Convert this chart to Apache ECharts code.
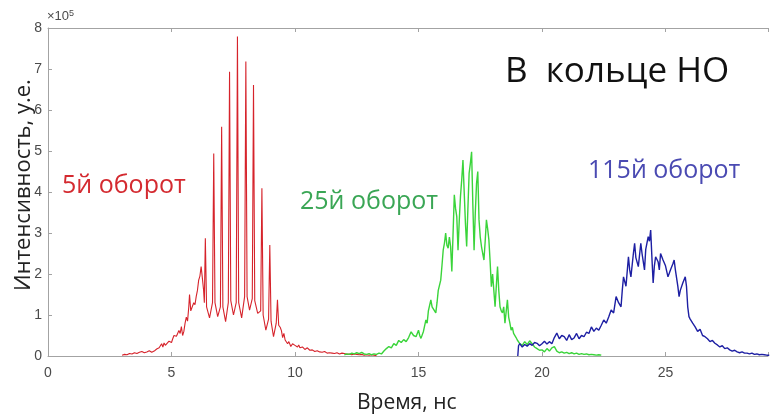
<!DOCTYPE html>
<html>
<head>
<meta charset="utf-8">
<script src="https://cdn.jsdelivr.net/npm/echarts@6/dist/echarts.min.js"></script>
<style>
  html, body { margin: 0; padding: 0; background: #fff; }
  #chart { width: 771px; height: 420px; }
</style>
</head>
<body>
<div id="chart"></div>
<script>
// Intensity (units of 1e5) versus time, ns — pulses after 5, 25 and 115 turns
const red = [
  [3.0,0.02],[3.1,0.04],[3.2,0.03],[3.3,0.06],[3.4,0.05],[3.5,0.08],[3.6,0.06],[3.7,0.09],
  [3.8,0.11],[3.9,0.08],[4.0,0.10],[4.1,0.13],[4.2,0.09],[4.3,0.12],[4.4,0.17],[4.5,0.20],
  [4.6,0.30],[4.65,0.22],[4.7,0.32],[4.75,0.26],[4.8,0.24],[4.9,0.36],[5.0,0.33],[5.05,0.42],
  [5.1,0.50],[5.2,0.48],[5.3,0.62],[5.35,0.55],[5.4,0.72],[5.45,0.50],[5.5,0.60],[5.55,0.80],
  [5.6,0.95],[5.65,0.85],[5.7,1.20],[5.73,1.50],[5.78,1.10],[5.85,1.12],[5.9,1.30],[5.95,1.25],
  [6.0,1.45],[6.05,1.60],[6.1,1.85],[6.15,1.95],[6.2,2.18],[6.25,1.90],[6.3,1.60],
  [6.33,1.3],[6.37,2.87],[6.42,1.2],[6.54,0.93],
  [6.66,1.3],[6.71,4.94],[6.76,1.3],[6.87,0.96],
  [6.98,1.2],[7.03,5.59],[7.08,1.2],[7.19,0.84],
  [7.30,1.3],[7.35,6.93],[7.40,1.35],[7.51,1.00],
  [7.62,1.3],[7.67,7.79],[7.72,1.3],[7.84,0.93],
  [7.96,1.45],[8.01,7.18],[8.06,1.45],[8.16,1.12],
  [8.27,1.4],[8.32,6.61],[8.37,1.35],[8.49,1.04],
  [8.61,1.1],[8.66,4.09],[8.71,1.0],[8.82,0.63],
  [8.93,0.9],[8.98,2.71],[9.03,0.85],[9.13,0.47],
  [9.24,0.8],[9.29,1.37],[9.34,0.75],
  [9.4,0.70],[9.45,0.62],[9.5,0.45],[9.55,0.55],[9.6,0.39],[9.65,0.42],[9.7,0.30],[9.75,0.35],
  [9.83,0.23],[9.9,0.30],[10.0,0.26],[10.1,0.22],[10.15,0.27],[10.2,0.20],[10.3,0.22],[10.4,0.16],
  [10.5,0.20],[10.55,0.19],[10.6,0.14],[10.7,0.15],[10.8,0.11],[10.9,0.13],[11.0,0.10],[11.1,0.09],
  [11.2,0.11],[11.3,0.07],[11.4,0.08],[11.5,0.07],[11.6,0.06],[11.7,0.08],[11.8,0.05],[11.9,0.07],
  [12.0,0.06],[12.1,0.04],[12.2,0.05],[12.3,0.03],[12.4,0.05],[12.5,0.04],[12.6,0.03],[12.7,0.04],
  [12.8,0.02],[12.9,0.03],[13.0,0.02],[13.1,0.03],[13.2,0.02],[13.3,0.01]
];

const green = [
  [12.0,0.03],[12.1,0.05],[12.2,0.04],[12.3,0.07],[12.4,0.05],[12.5,0.08],[12.6,0.06],[12.7,0.09],
  [12.8,0.05],[12.9,0.04],[13.0,0.06],[13.1,0.03],[13.2,0.05],[13.3,0.04],[13.4,0.07],[13.5,0.05],
  [13.6,0.12],[13.7,0.18],[13.8,0.23],[13.9,0.20],[14.0,0.30],[14.1,0.26],[14.2,0.38],[14.3,0.33],
  [14.4,0.40],[14.5,0.35],[14.6,0.45],[14.7,0.59],[14.8,0.50],[14.9,0.47],[15.0,0.63],[15.05,0.50],
  [15.1,0.43],[15.2,0.60],[15.3,0.88],[15.35,0.80],[15.4,1.10],[15.5,1.37],[15.55,1.20],[15.6,1.15],
  [15.7,1.05],[15.75,1.30],[15.8,1.60],[15.9,1.85],[15.95,2.20],[16.0,2.58],[16.05,2.75],[16.1,3.00],
  [16.15,2.70],[16.2,2.63],[16.25,2.90],[16.3,2.67],[16.35,2.06],[16.45,3.93],[16.5,3.60],[16.55,3.40],
  [16.6,2.58],[16.65,3.30],[16.7,3.90],[16.75,4.30],[16.8,4.78],[16.85,4.00],[16.9,3.24],[16.95,2.67],
  [17.0,3.60],[17.05,4.46],[17.1,4.70],[17.15,4.98],[17.2,3.70],[17.25,2.58],[17.3,3.50],[17.35,4.21],
  [17.4,4.50],[17.45,3.32],[17.5,2.90],[17.55,2.67],[17.6,2.50],[17.65,2.34],[17.7,2.80],[17.75,3.32],
  [17.8,3.10],[17.85,2.83],[17.9,2.30],[17.95,1.69],[18.0,2.00],[18.05,1.60],[18.1,1.20],[18.15,1.70],
  [18.2,2.18],[18.25,1.60],[18.3,1.20],[18.35,1.10],[18.4,1.05],[18.45,1.20],[18.5,0.80],[18.6,1.37],
  [18.65,0.95],[18.7,0.80],[18.75,0.63],[18.8,0.70],[18.85,0.55],[18.9,0.59],[18.95,0.45],[19.0,0.39],
  [19.05,0.42],[19.1,0.30],[19.2,0.26],[19.3,0.35],[19.4,0.28],[19.5,0.37],[19.6,0.30],[19.7,0.22],
  [19.8,0.18],[19.9,0.14],[20.0,0.15],[20.1,0.10],[20.2,0.18],[20.3,0.12],[20.4,0.20],[20.5,0.23],
  [20.6,0.12],[20.7,0.08],[20.8,0.10],[20.9,0.07],[21.0,0.09],[21.1,0.06],[21.2,0.08],[21.3,0.05],
  [21.4,0.07],[21.5,0.04],[21.6,0.06],[21.7,0.04],[21.8,0.05],[21.9,0.03],[22.0,0.04],[22.1,0.03],
  [22.2,0.02],[22.3,0.03],[22.4,0.02]
];

const blue = [
  [19.02,0.0],[19.05,0.25],[19.1,0.30],[19.2,0.22],[19.3,0.28],[19.4,0.24],[19.5,0.30],[19.6,0.26],
  [19.7,0.33],[19.8,0.31],[19.9,0.25],[20.0,0.30],[20.1,0.36],[20.2,0.29],[20.3,0.35],[20.4,0.30],
  [20.5,0.45],[20.6,0.56],[20.7,0.42],[20.8,0.50],[20.9,0.47],[21.0,0.38],[21.1,0.52],[21.2,0.40],
  [21.3,0.44],[21.4,0.55],[21.5,0.42],[21.6,0.50],[21.7,0.47],[21.8,0.58],[21.9,0.55],[22.0,0.71],
  [22.1,0.60],[22.2,0.68],[22.3,0.63],[22.4,0.75],[22.5,0.88],[22.6,0.80],[22.7,0.95],[22.8,1.12],
  [22.9,1.05],[23.0,1.45],[23.1,1.30],[23.2,1.20],[23.25,1.60],[23.3,1.93],[23.4,1.70],[23.5,2.42],
  [23.55,2.10],[23.6,1.93],[23.7,2.50],[23.75,2.75],[23.8,2.40],[23.9,2.18],[24.0,2.75],[24.05,2.50],
  [24.1,2.30],[24.15,2.10],[24.2,2.60],[24.3,2.91],[24.35,2.80],[24.4,3.07],[24.45,2.40],[24.5,1.78],
  [24.55,2.20],[24.6,2.42],[24.7,2.30],[24.75,2.10],[24.8,2.50],[24.9,2.34],[25.0,2.20],[25.1,1.93],
  [25.2,2.10],[25.3,2.25],[25.35,2.34],[25.4,2.10],[25.5,1.70],[25.55,1.45],[25.6,1.60],[25.7,1.78],
  [25.8,1.93],[25.85,1.70],[25.9,1.20],[25.95,0.96],[26.0,0.90],[26.1,0.80],[26.2,0.71],[26.3,0.60],
  [26.4,0.65],[26.5,0.50],[26.6,0.47],[26.7,0.42],[26.8,0.35],[26.9,0.38],[27.0,0.31],[27.1,0.27],
  [27.2,0.22],[27.3,0.25],[27.4,0.18],[27.5,0.20],[27.6,0.15],[27.7,0.12],[27.8,0.14],[27.9,0.10],
  [28.0,0.08],[28.1,0.10],[28.2,0.07],[28.3,0.07],[28.4,0.05],[28.5,0.07],[28.6,0.04],[28.7,0.05],
  [28.8,0.03],[28.9,0.04],[29.0,0.03],[29.1,0.02],[29.2,0.02]
];

const xTicks = [0, 5, 10, 15, 20, 25];
const yTicks = [0, 1, 2, 3, 4, 5, 6, 7, 8];

const axisGray = '#a3a3a3';
const labelGray = '#4a4a4a';

const chart = echarts.init(document.getElementById('chart'), null, { renderer: 'canvas' });

function line(name, data, color, width) {
  return {
    name: name,
    type: 'line',
    data: data,
    showSymbol: false,
    silent: true,
    lineStyle: { color: color, width: width },
    emphasis: { disabled: true }
  };
}

chart.setOption({
  animation: false,
  backgroundColor: '#ffffff',
  grid: { left: 48, right: 0, top: 28, bottom: 64, containLabel: false },
  xAxis: [
    {
      type: 'value', min: 0, max: 29.15, interval: 5, position: 'bottom',
      axisLine: { show: true, lineStyle: { color: axisGray, width: 1 } },
      axisTick: { show: true, inside: true, length: 4, lineStyle: { color: axisGray } },
      axisLabel: {
        color: labelGray, fontSize: 14, fontFamily: 'Liberation Sans, Arial', margin: 10,
        formatter: v => (xTicks.indexOf(v) >= 0 ? String(v) : '')
      },
      splitLine: { show: false }
    },
    {
      type: 'value', min: 0, max: 29.15, interval: 5, position: 'top',
      axisLine: { show: true, lineStyle: { color: axisGray, width: 1 } },
      axisTick: { show: true, inside: true, length: 4, lineStyle: { color: axisGray } },
      axisLabel: { show: false },
      splitLine: { show: false }
    }
  ],
  yAxis: {
    type: 'value', min: 0, max: 8, interval: 1,
    axisLine: { show: true, lineStyle: { color: axisGray, width: 1 } },
    axisTick: { show: true, inside: true, length: 4, lineStyle: { color: axisGray } },
    axisLabel: {
      color: labelGray, fontSize: 14, fontFamily: 'Liberation Sans, Arial', margin: 6,
      formatter: v => (yTicks.indexOf(v) >= 0 ? String(v) : '')
    },
    splitLine: { show: false }
  },
  series: [
    line('5й оборот', red, '#d6232b', 1.1),
    line('25й оборот', green, '#3ad43a', 1.4),
    line('115й оборот', blue, '#1d1fa3', 1.4)
  ],
  graphic: [
    {
      type: 'text', left: 47, top: 9,
      style: {
        text: '×10{sup|5}',
        rich: { sup: { fontSize: 9, verticalAlign: 'top', padding: [0, 0, 6, 0], fill: labelGray, fontFamily: 'Liberation Sans, Arial' } },
        fontSize: 13, fill: labelGray, fontFamily: 'Liberation Sans, Arial'
      }
    },
    {
      type: 'text', left: 505, top: 55,
      style: { text: 'В  кольце НО', fontSize: 35, fill: '#111', fontFamily: 'Open Sans' }
    },
    {
      type: 'text', left: 62, top: 173,
      style: { text: '5й оборот', fontSize: 25, fill: '#d42a30', fontFamily: 'Open Sans' }
    },
    {
      type: 'text', left: 300, top: 189,
      style: { text: '25й оборот', fontSize: 25, fill: '#3aa655', fontFamily: 'Open Sans' }
    },
    {
      type: 'text', left: 588, top: 158,
      style: { text: '115й оборот', fontSize: 25, fill: '#4a4ab2', fontFamily: 'Open Sans' }
    },
    {
      type: 'text', left: 357, top: 393,
      style: { text: 'Время, нс', fontSize: 21, fill: '#222', fontFamily: 'Open Sans' }
    },
    {
      type: 'text', x: 24, y: 185, rotation: Math.PI / 2,
      style: {
        text: 'Интенсивность, у.е.', fontSize: 22, fill: '#222', fontFamily: 'Open Sans',
        align: 'center', verticalAlign: 'middle'
      }
    }
  ]
});
</script>
</body>
</html>
